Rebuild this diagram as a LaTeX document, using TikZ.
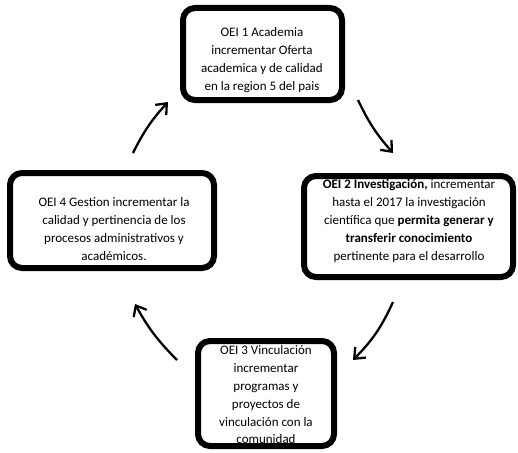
\documentclass[tikz,border=0pt]{standalone}
\usepackage{fontspec}
\setmainfont{Carlito}
\usetikzlibrary{arrows.meta}

\tikzset{
    box/.style={draw,line width=6pt,rounded corners=12pt,inner sep=0pt},
    testo/.style={align=center,inner sep=0pt,font=\fontsize{13}{17.8}\selectfont},
    freccia/.style={line width=2.3pt,-{Straight Barb[length=9pt,width=15pt,line width=2.3pt]}}
}

\begin{document}
\begin{tikzpicture}[x=1pt,y=-1pt]
        \useasboundingbox (0,0) rectangle (518,452);

        %%%%%%%%%% Testi %%%%%%%%%%
        \node[testo] (t1) at (262,60) {OEI 1 Academia\\incrementar Oferta\\academica y de calidad\\en la region 5 del pais};
        \node[testo] (t2) at (409,221) {\textbf{OEI 2 Investigación,} incrementar\\hasta el 2017 la investigación\\científica que \textbf{permita generar y}\\\textbf{transferir conocimiento}\\pertinente para el desarrollo};
        \node[testo] (t3) at (266,395) {OEI 3 Vinculación\\incrementar\\programas y\\proyectos de\\vinculación con la\\comunidad};
        \node[testo] (t4) at (114,229) {OEI 4 Gestion incrementar la\\calidad y pertinencia de los\\procesos administrativos y\\académicos.};

        %%%%%%%%%% Nodi %%%%%%%%%%
        \node[box,minimum width=159pt,minimum height=92pt] (oei1) at (262.5,54) {};
        \node[box,minimum width=209pt,minimum height=101pt] (oei2) at (408.5,226.5) {};
        \node[box,minimum width=136pt,minimum height=105pt] (oei3) at (266,393.5) {};
        \node[box,minimum width=204pt,minimum height=95pt] (oei4) at (112,220.5) {};

        %%%%%%%%% Frecce %%%%%%%%%
        \coordinate (a1s) at (358,100);
        \coordinate (a1e) at (393,153);
        \coordinate (a2s) at (393,302);
        \coordinate (a2e) at (353,360);
        \coordinate (a3s) at (177,360);
        \coordinate (a3e) at (135,304);
        \coordinate (a4s) at (133,153);
        \coordinate (a4e) at (168,102);
        \draw[freccia] (a1s) to[bend right=8] (a1e);
        \draw[freccia] (a2s) to[bend left=10] (a2e);
        \draw[freccia] (a3s) to[bend left=8] (a3e);
        \draw[freccia] (a4s) to[bend left=8] (a4e);
    \end{tikzpicture}
\end{document}
